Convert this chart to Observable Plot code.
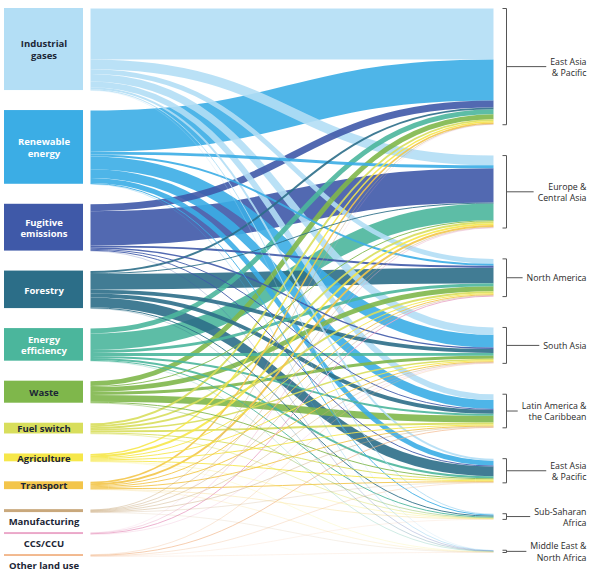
<!DOCTYPE html>
<html><head><meta charset="utf-8">
<script src="https://cdn.jsdelivr.net/npm/d3@7"></script>
<script src="https://cdn.jsdelivr.net/npm/@observablehq/plot@0.6"></script>
<style>
body{margin:0;background:#fff;}
#chart svg{display:block;}
</style>
</head><body><div id="chart"></div>
<script>
// ---------- DATA ----------
const sources = ["Industrial gases","Renewable energy","Fugitive emissions","Forestry","Energy efficiency","Waste","Fuel switch","Agriculture","Transport","Manufacturing","CCS/CCU","Other land use"];
const sourceLabels = ["Industrial\ngases","Renewable\nenergy","Fugitive\nemissions","Forestry","Energy\nefficiency","Waste","Fuel switch","Agriculture","Transport","Manufacturing","CCS/CCU","Other land use"];
const targets = ["East Asia & Pacific","Europe & Central Asia","North America","South Asia","Latin America & the Caribbean","East Asia & Pacific (2)","Sub-Saharan Africa","Middle East & North Africa"];
const targetLabels = ["East Asia\n& Pacific","Europe &\nCentral Asia","North America","South Asia","Latin America &\nthe Caribbean","East Asia\n& Pacific","Sub-Saharan\nAfrica","Middle East &\nNorth Africa"];

// flows from each source to targets (in the order of `targets`)
const industrialGases   = [52, 10, 5, 7.5, 6, 2, 1, 0.3];
const renewableEnergy   = [42, 3, 2, 13, 9, 5, 1, 0.3];
const fugitiveEmissions = [7, 35, 2, 1.5, 1, 1, 0, 0.3];
const forestry          = [2, 1, 16, 4, 4, 10, 1, 0.3];
const energyEfficiency  = [5, 17, 3, 3, 2, 2, 1, 0.3];
const waste             = [5, 1, 5, 3, 7, 1, 0.5, 0];
const fuelSwitch        = [2, 2, 2, 1.5, 2, 1, 0.5, 0];
const agriculture       = [1.5, 2, 1, 1, 1, 1, 0.3, 0.2];
const transport         = [1.5, 2, 1, 1, 1, 1, 0.3, 0.2];
const manufacturing     = [0.5, 0.5, 0.5, 0.5, 0.5, 0.3, 0, 0.2];
const ccsCcu            = [0.2, 0.5, 1, 0.3, 0, 0, 0, 0];
const otherLandUse      = [0, 0, 0, 0.4, 0.8, 0.4, 0.2, 0.2];

// ---------- STYLE ----------
const sourceColors = ["#b3def5","#3badE5","#3f59a8","#2c6e88","#4bb69c","#7fb74b","#d8de5c","#f6e74a","#f3c54a","#c9a87c","#eba8c9","#f2b98f"];
const darkLabel = new Set(["Industrial gases","Waste","Fuel switch","Agriculture","Transport","Manufacturing","CCS/CCU","Other land use"]);

const flows = [industrialGases, renewableEnergy, fugitiveEmissions, forestry, energyEfficiency, waste, fuelSwitch, agriculture, transport, manufacturing, ccsCcu, otherLandUse];

// ---------- LAYOUT (sankey, computed) ----------
const W = 600, H = 576;
const EXT0 = 8, EXT1_L = 556, EXT1_R = 552, PAD = 20;
const BOX_X0 = 4, BOX_X1 = 83, LINK_X0 = 90, LINK_X1 = 493;
const BR_X = 506, BR_TICK = 502, LABEL_R = 586;

const srcTotals = flows.map(r => d3.sum(r));
const tgtTotals = targets.map((_, j) => d3.sum(flows, r => r[j]));
const total = d3.sum(srcTotals);
const k = (EXT1_L - EXT0 - PAD * (sources.length - 1)) / total;

function stack(totals, ext1) {
  const gap = (ext1 - EXT0 - k * d3.sum(totals)) / (totals.length - 1);
  let y = EXT0;
  return totals.map(t => { const n = {y0: y, y1: y + t * k}; y = n.y1 + gap; return n; });
}
const srcNodes = stack(srcTotals, EXT1_L).map((n, i) => ({...n, name: sources[i], label: sourceLabels[i], color: sourceColors[i]}));
const tgtNodes = stack(tgtTotals, EXT1_R).map((n, j) => ({...n, name: targets[j], label: targetLabels[j]}));

const links = [];
flows.forEach((row, i) => row.forEach((v, j) => { if (v > 0) links.push({i, j, value: v, w: v * k, color: sourceColors[i]}); }));
srcNodes.forEach((n, i) => {
  let y = n.y0;
  links.filter(l => l.i === i).sort((a, b) => a.j - b.j).forEach(l => { l.sy = y + l.w / 2; y += l.w; });
});
tgtNodes.forEach((n, j) => {
  let y = n.y0;
  links.filter(l => l.j === j).sort((a, b) => a.i - b.i).forEach(l => { l.ty = y + l.w / 2; y += l.w; });
});
const drawLinks = links.slice().sort((a, b) => b.value - a.value);

const ctx = document.createElement("canvas").getContext("2d");
ctx.font = "8.8px 'Open Sans'";
tgtNodes.forEach(n => {
  n.ym = (n.y0 + n.y1) / 2;
  const wmax = d3.max(n.label.split("\n"), s => ctx.measureText(s).width);
  n.lineEnd = LABEL_R - wmax - 4;
});

srcNodes.forEach(n => {
  const h = n.y1 - n.y0;
  n.below = h < 5;
  n.ty = n.below ? n.y1 + 8.5 : (n.y0 + n.y1) / 2;
  n.tcolor = darkLabel.has(n.name) ? "#1c2636" : "#ffffff";
});

const chart = Plot.plot({
  width: W, height: H,
  margin: 0,
  x: {domain: [0, W], range: [0, W], axis: null},
  y: {domain: [0, H], range: [0, H], axis: null},
  color: {type: "identity"},
  style: {fontFamily: "'Open Sans', sans-serif", background: "#fff"},
  marks: [
    Plot.link(drawLinks, {x1: LINK_X0, x2: LINK_X1, y1: "sy", y2: "ty", stroke: "color", strokeWidth: "w", strokeOpacity: 0.9, curve: "bump-x"}),
    Plot.rect(srcNodes, {x1: BOX_X0, x2: BOX_X1, y1: "y0", y2: "y1", fill: "color"}),
    Plot.text(srcNodes, {x: (BOX_X0 + BOX_X1) / 2, y: "ty", text: "label", fill: "tcolor", fontWeight: "bold", fontSize: 9.5, lineHeight: 1.22, lineAnchor: "middle"}),
    Plot.link(tgtNodes, {x1: BR_X, x2: BR_X, y1: "y0", y2: "y1", stroke: "#555", strokeWidth: 1}),
    Plot.link(tgtNodes, {x1: BR_TICK, x2: BR_X, y1: "y0", y2: "y0", stroke: "#555", strokeWidth: 1}),
    Plot.link(tgtNodes, {x1: BR_TICK, x2: BR_X, y1: "y1", y2: "y1", stroke: "#555", strokeWidth: 1}),
    Plot.link(tgtNodes, {x1: BR_X, x2: "lineEnd", y1: "ym", y2: "ym", stroke: "#555", strokeWidth: 1}),
    Plot.text(tgtNodes, {x: LABEL_R, y: "ym", text: "label", textAnchor: "end", fill: "#2a2a2a", fontSize: 8.8, lineHeight: 1.3, lineAnchor: "middle"})
  ]
});
document.getElementById("chart").appendChild(chart);
</script>
</body></html>
